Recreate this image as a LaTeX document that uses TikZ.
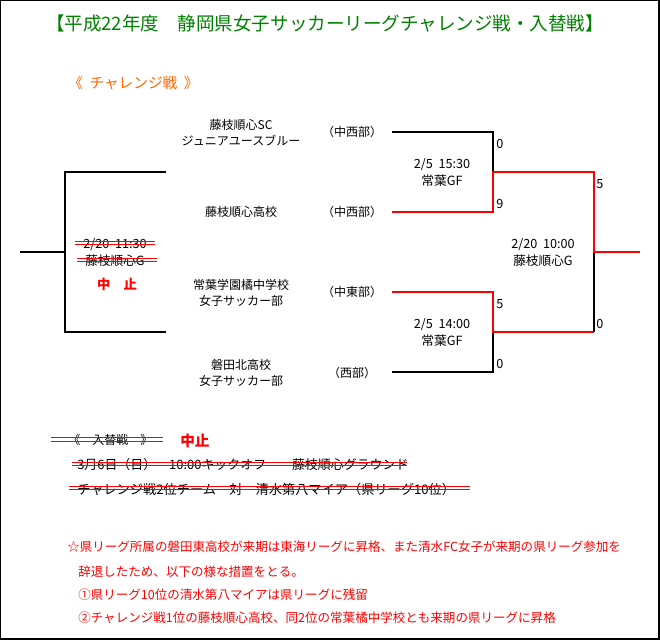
\documentclass[tikz,border=0pt]{standalone}
\usepackage{fontspec}
\setmainfont{Noto Sans CJK JP}
\definecolor{titlegreen}{RGB}{0,128,0}
\definecolor{roundorange}{RGB}{255,102,0}
\definecolor{winred}{RGB}{255,0,0}
\tikzset{
  team/.style={font=\fontsize{9pt}{12pt}\selectfont, align=center, inner sep=0pt},
  score/.style={font=\fontsize{9.5pt}{11pt}\selectfont, anchor=west, inner sep=0pt},
  loss/.style={line width=0.9pt, draw=black},
  win/.style={line width=2.2pt, draw=winred},
  strike/.style={line width=0.75pt, draw=winred},
  note/.style={font=\fontsize{9.4pt}{12pt}\selectfont, text=winred, anchor=west, inner sep=0pt},
}
\begin{document}
\begin{tikzpicture}[x=0.75pt, y=-0.75pt]
        \useasboundingbox (0,0) rectangle (660,640);
        % frame
        \draw[line width=0.75pt] (0.5,639) -- (0.5,0.5) -- (659,0.5);
        \draw[line width=1.5pt] (659,0) -- (659,639) -- (0,639);

        % title
        \node[font=\fontsize{13.9pt}{16pt}\selectfont, text=titlegreen] (title) at (325,23) {【平成22年度　静岡県女子サッカーリーグチャレンジ戦・入替戦】};
        \node[font=\fontsize{11pt}{12pt}\selectfont, text=roundorange, anchor=west, inner sep=0pt] (chal) at (68,83) {《\ \ チャレンジ戦\ \ 》};

        % teams
        \node[team] (t1) at (241,133) {藤枝順心SC\\ジュニアユースブルー};   \node[team] (r1) at (352,132) {（中西部）};
        \node[team] (t2) at (241,212) {藤枝順心高校};                       \node[team] (r2) at (352,212) {（中西部）};
        \node[team] (t3) at (241,293) {常葉学園橘中学校\\女子サッカー部};   \node[team] (r3) at (352,292) {（中東部）};
        \node[team] (t4) at (241,373) {磐田北高校\\女子サッカー部};         \node[team] (r4) at (352,373) {（西部）};

        % round 1, upper
        \coordinate (a1) at (392,132);  \coordinate (a1c) at (493,132);
        \coordinate (a2) at (392,212);  \coordinate (a2c) at (493,212);
        \coordinate (am) at (493,172);  \coordinate (fa) at (594,172);
        % round 1, lower
        \coordinate (b1) at (392,292);  \coordinate (b1c) at (493,292);
        \coordinate (b2) at (392,372);  \coordinate (b2c) at (493,372);
        \coordinate (bm) at (493,332);  \coordinate (fb) at (594,332);
        % final
        \coordinate (fm) at (594,252);  \coordinate (champ) at (640,252);

        \draw[loss] (a1) -- (a1c) -- (am);
        \draw[loss] (bm) -- (b2c) -- (b2);
        \draw[loss] (fm) -- (fb);
        \draw[win] (a2) -- (a2c) -- (am) -- (fa) -- (fm) -- (champ);
        \draw[win] (b1) -- (b1c) -- (bm) -- (fb);

        % scores
        \node[score] (sa1) at (496,144) {0};    \node[score] (sa2) at (496,204) {9};
        \node[score] (sb1) at (496,304) {5};    \node[score] (sb2) at (496,364) {0};
        \node[score] (sf1) at (596,184) {5};    \node[score] (sf2) at (596,324) {0};

        % match info
        \node[team, font=\fontsize{9.5pt}{12.75pt}\selectfont] (ma) at (442,172) {2/5\ \ 15:30\\常葉GF};
        \node[team, font=\fontsize{9.5pt}{12.75pt}\selectfont] (mb) at (442,332) {2/5\ \ 14:00\\常葉GF};
        \node[team, font=\fontsize{9.5pt}{12.75pt}\selectfont] (mf) at (543,252) {2/20\ \ 10:00\\藤枝順心G};

        % 2nd place match (cancelled)
        \coordinate (s1) at (166,172);  \coordinate (s1c) at (65,172);
        \coordinate (s2) at (166,332);  \coordinate (s2c) at (65,332);
        \coordinate (sm) at (65,252);   \coordinate (sout) at (20,252);
        \draw[loss] (s1) -- (s1c) -- (s2c) -- (s2);
        \draw[loss] (sm) -- (sout);
        \node[team, font=\fontsize{9.5pt}{12.75pt}\selectfont] (ms) at (115,252) {2/20\ \ 11:30\\藤枝順心G};
        \draw[strike] (75,241) -- (155,241);  \draw[strike] (75,244.5) -- (155,244.5);
        \draw[strike] (77,258) -- (157,258);  \draw[strike] (77,261.5) -- (157,261.5);
        \node[font=\fontsize{10pt}{12pt}\selectfont\bfseries, text=winred] (stop1) at (117,284) {中　止};

        % play-off (cancelled)
        \node[team, anchor=west] (po) at (68,440) {《　入替戦　》};
        \draw[strike] (51,437) -- (163,437);  \draw[strike] (51,441) -- (163,441);
        \node[font=\fontsize{11pt}{12pt}\selectfont\bfseries, text=winred, anchor=west, inner sep=0pt] (stop2) at (180,441) {中止};
        \node[team, anchor=west, font=\fontsize{9.7pt}{12pt}\selectfont] (po1) at (77,465) {3月6日（日）　10:00キックオフ　　藤枝順心グラウンド};
        \draw[strike] (72,462) -- (407,462);  \draw[strike] (72,465.5) -- (407,465.5);
        \node[team, anchor=west, font=\fontsize{9.9pt}{12pt}\selectfont] (po2) at (77,489) {チャレンジ戦2位チーム　対　清水第八マイア（県リーグ10位）};
        \draw[strike] (69,486) -- (470,486);  \draw[strike] (69,489.5) -- (470,489.5);

        % notes
        \node[note] (n1) at (67,547) {☆県リーグ所属の磐田東高校が来期は東海リーグに昇格、また清水FC女子が来期の県リーグ参加を};
        \node[note] (n2) at (78,572) {辞退したため、以下の様な措置をとる。};
        \node[note] (n3) at (78,595) {①県リーグ10位の清水第八マイアは県リーグに残留};
        \node[note] (n4) at (78,618) {②チャレンジ戦1位の藤枝順心高校、同2位の常葉橘中学校とも来期の県リーグに昇格};
\end{tikzpicture}
\end{document}
